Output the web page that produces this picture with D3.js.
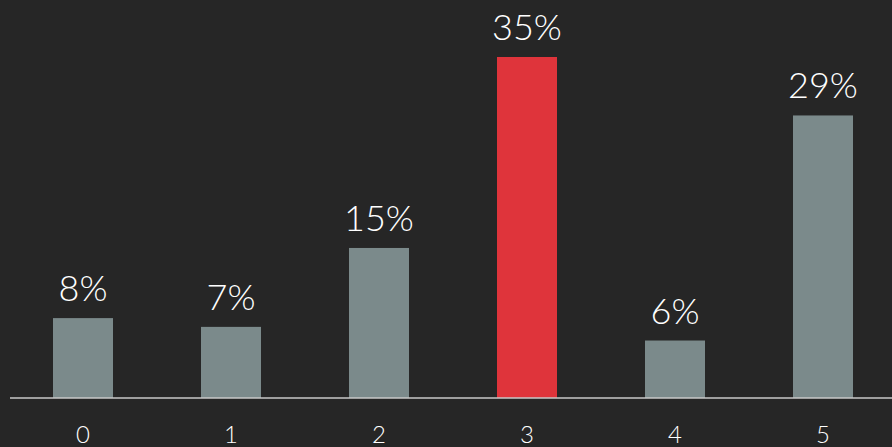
<!DOCTYPE html>
<html><head><meta charset="utf-8">
<script src="https://cdn.jsdelivr.net/npm/d3@7"></script>
<style>
html,body{margin:0;padding:0;background:#262626;}
svg{display:block;}
</style></head>
<body>
<svg id="chart" width="892" height="447"></svg>
<script>
const categories = ["0","1","2","3","4","5"];
const values = [8.2, 7.3, 15.4, 35, 5.9, 29];
const highlight = "3";

const W = 892, H = 447;
const svg = d3.select("#chart");
svg.append("rect").attr("width", W).attr("height", H).attr("fill", "#262626");

const baseY = 398;
const x = d3.scaleBand().domain(categories).range([9, 897])
  .paddingInner(88/148).paddingOuter(44/148);
const y = d3.scaleLinear().domain([0, 35]).range([baseY, 57]);

const font = "'Century Gothic', Lato, 'Open Sans', sans-serif";

svg.selectAll("rect.bar").data(categories).enter().append("rect")
  .attr("class", "bar")
  .attr("x", d => x(d))
  .attr("width", x.bandwidth())
  .attr("y", (d, i) => y(values[i]))
  .attr("height", (d, i) => baseY - y(values[i]))
  .attr("fill", d => d === highlight ? "#df343b" : "#7b8a8b");

svg.selectAll("text.val").data(categories).enter().append("text")
  .attr("class", "val")
  .attr("x", d => x(d) + x.bandwidth() / 2)
  .attr("y", (d, i) => y(values[i]) - 17)
  .attr("text-anchor", "middle")
  .attr("font-family", font)
  .attr("font-weight", 300)
  .attr("font-size", 36)
  .attr("fill", "#ffffff")
  .text((d, i) => Math.round(values[i]) + "%");

const axis = d3.axisBottom(x).tickSize(0).tickPadding(0);
const g = svg.append("g").attr("transform", `translate(0,${baseY})`).call(axis);
g.select(".domain").remove();
g.append("line").attr("x1", 10).attr("x2", W).attr("y1", 0).attr("y2", 0)
  .attr("stroke", "#c8c8c8").attr("stroke-width", 1.5);
g.selectAll(".tick text")
  .attr("y", 45)
  .attr("dy", 0)
  .attr("font-family", font)
  .attr("font-weight", 300)
  .attr("font-size", 24)
  .attr("fill", "#ffffff");
</script>
</body></html>
